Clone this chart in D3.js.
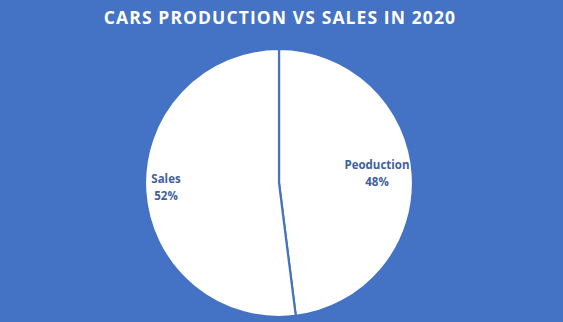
<!DOCTYPE html>
<html><head><meta charset="utf-8">
<script src="https://cdn.jsdelivr.net/npm/d3@7"></script>
<style>html,body{margin:0;padding:0;background:#4472C4;}</style>
</head><body>
<script>
const categories = ["Peoduction", "Sales"];
const values = [48, 52];
const title = "CARS PRODUCTION VS SALES IN 2020";

const W = 563, H = 322;
const svg = d3.select("body").append("svg").attr("width", W).attr("height", H);
svg.append("rect").attr("width", W).attr("height", H).attr("fill", "#4472C4");

svg.append("text").attr("x", 280).attr("y", 24).attr("text-anchor", "middle")
  .attr("fill", "#fff").attr("font-family", "Open Sans").attr("font-weight", "bold")
  .attr("font-size", 17.5).attr("letter-spacing", 1.1).text(title);

const cx = 279, cy = 183, r = 134;
const data = categories.map((c, i) => ({c, v: values[i]}));
const pie = d3.pie().value(d => d.v).sort(null);
const arcs = pie(data);
const arc = d3.arc().innerRadius(0).outerRadius(r);
const g = svg.append("g").attr("transform", `translate(${cx},${cy})`);
g.selectAll("path").data(arcs).enter().append("path")
  .attr("d", arc).attr("fill", "#fff").attr("stroke", "#4472C4").attr("stroke-width", 2.2);

const labelPos = [[98, -14], [-113, 0]];
const total = d3.sum(values);
arcs.forEach((a, i) => {
  const t = g.append("text").attr("text-anchor", "middle").attr("fill", "#3F5F9E")
    .attr("font-family", "Open Sans").attr("font-weight", "bold").attr("font-size", 11.5);
  t.append("tspan").attr("x", labelPos[i][0]).attr("y", labelPos[i][1]).text(a.data.c);
  t.append("tspan").attr("x", labelPos[i][0]).attr("y", labelPos[i][1] + 17)
    .text(Math.round(a.data.v / total * 100) + "%");
});
</script>
</body></html>
